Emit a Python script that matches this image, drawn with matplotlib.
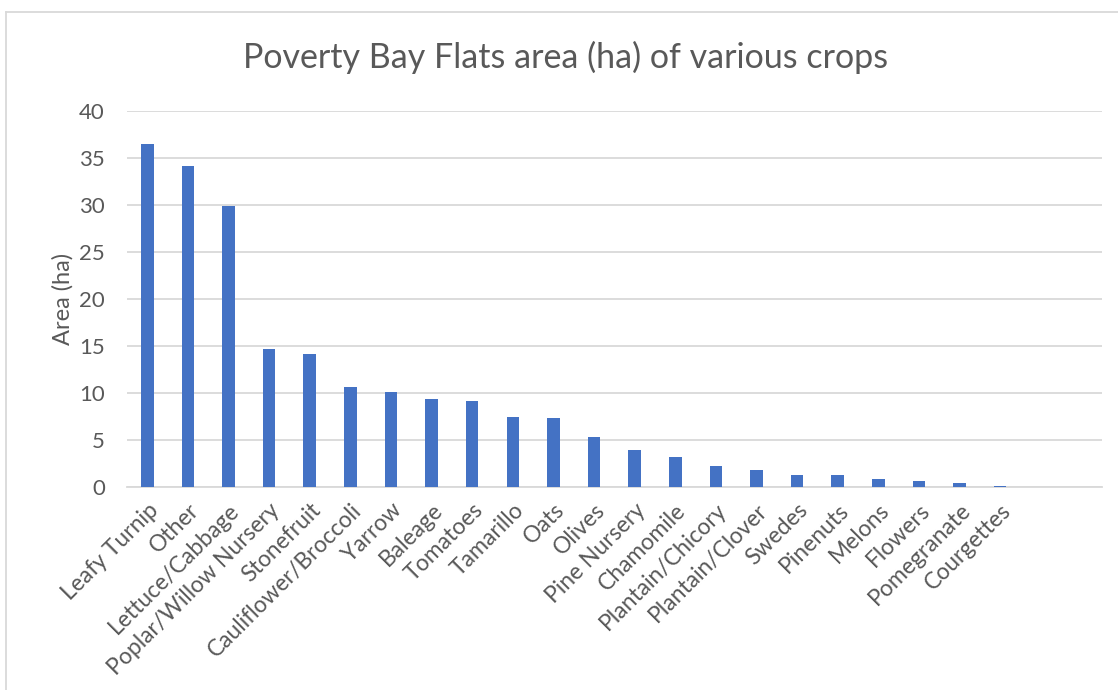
import matplotlib
matplotlib.use("Agg")
import matplotlib.pyplot as plt
from matplotlib.lines import Line2D

crops = ["Leafy Turnip", "Other", "Lettuce/Cabbage", "Poplar/Willow Nursery",
         "Stonefruit", "Cauliflower/Broccoli", "Yarrow", "Baleage", "Tomatoes",
         "Tamarillo", "Oats", "Olives", "Pine Nursery", "Chamomile",
         "Plantain/Chicory", "Plantain/Clover", "Swedes", "Pinenuts", "Melons",
         "Flowers", "Pomegranate", "Courgettes"]
area_ha = [36.5, 34.2, 29.9, 14.65, 14.15, 10.6, 10.1, 9.35, 9.1, 7.45, 7.3,
           5.3, 3.95, 3.15, 2.2, 1.85, 1.3, 1.3, 0.85, 0.6, 0.45, 0.1]
y_ticks = [0, 5, 10, 15, 20, 25, 30, 35, 40]
# two trailing empty category slots on the axis
empty_slots = 2

bar_color = "#4472C4"
text_color = "#595959"
grid_color = "#D9D9D9"
font = ["Lato", "DejaVu Sans"]

fig = plt.figure(figsize=(11.18, 6.90), dpi=100)
ax = fig.add_axes([0.1136, 0.2942, 0.8718, 0.5449])

x = list(range(len(crops)))
ax.bar(x, area_ha, width=0.31, color=bar_color, zorder=3)

ax.set_xlim(-0.5, len(crops) + empty_slots - 0.5)
ax.set_ylim(y_ticks[0], y_ticks[-1])
ax.set_yticks(y_ticks)
ax.set_yticklabels([str(t) for t in y_ticks], fontsize=16, color=text_color,
                   family=font)
ax.set_xticks(x)
ax.set_xticklabels(crops, rotation=45, ha="right", rotation_mode="anchor",
                   fontsize=16.5, color=text_color, family=font)
ax.tick_params(axis="both", length=0)
ax.tick_params(axis="y", pad=16)
ax.tick_params(axis="x", pad=9)

ax.grid(axis="y", color=grid_color, linewidth=1.3, zorder=0)
for side in ["top", "right", "left"]:
    ax.spines[side].set_visible(False)
ax.spines["bottom"].set_color(grid_color)
ax.spines["bottom"].set_linewidth(1.3)

ax.set_ylabel("Area (ha)", fontsize=17, color=text_color, family=font,
              labelpad=4)
fig.text(0.5055, 0.917, "Poverty Bay Flats area (ha) of various crops",
         ha="center", va="center", fontsize=24.5, color=text_color, family=font)

# light chart frame
fig.add_artist(Line2D([0.0054, 0.0054], [0, 0.983], transform=fig.transFigure,
                      color="#D9D9D9", linewidth=1.3))
fig.add_artist(Line2D([0.0054, 1.0], [0.983, 0.983], transform=fig.transFigure,
                      color="#D9D9D9", linewidth=1.3))

fig.savefig("out.png", dpi=100, facecolor="white")
